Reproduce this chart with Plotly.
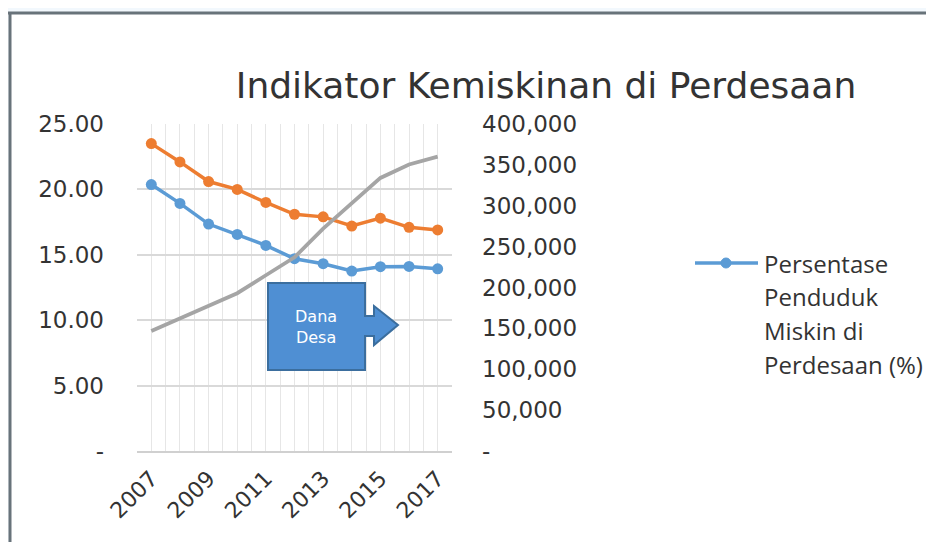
import plotly.graph_objects as go

# ---------------- data ----------------
years = [2007, 2008, 2009, 2010, 2011, 2012, 2013, 2014, 2015, 2016, 2017]
persen_miskin_desa = [20.37, 18.93, 17.35, 16.56, 15.72, 14.70, 14.32, 13.76, 14.09, 14.11, 13.93]
seri_oranye = [23.5, 22.1, 20.6, 20.0, 19.0, 18.1, 17.9, 17.2, 17.8, 17.1, 16.9]
garis_kemiskinan_desa = [146837, 161831, 178000, 193000, 215000, 237000, 272000, 303500, 334000, 350500, 360000]

x_tick_vals = [2007, 2009, 2011, 2013, 2015, 2017]
x_tick_text = ["2007", "2009", "2011", "2013", "2015", "2017"]
y_left_vals = [0, 5, 10, 15, 20, 25]
y_left_text = ["-", "5.00", "10.00", "15.00", "20.00", "25.00"]
y_right_vals = [0, 50000, 100000, 150000, 200000, 250000, 300000, 350000, 400000]
y_right_text = ["-", "50,000", "100,000", "150,000", "200,000", "250,000", "300,000", "350,000", "400,000"]

legend_lines = ["Persentase", "Penduduk", "Miskin di", "Perdesaan (%)"]
title_text = "Indikator Kemiskinan di Perdesaan"
callout_lines = "Dana<br>Desa"

# ---------------- layout geometry (screen pixels) ----------------
SW, SH = 934, 542          # screen
OFF = 8                    # page body margin
W, H = SW - OFF, SH - OFF  # figure size
L, R, T, B = 137, 452, 124, 451   # plot area in screen pixels
FONT = "DejaVu Sans"
LEG_FONT = "Open Sans"
TXT = "#333333"
BLUE, ORANGE, GREY = "#5B9BD5", "#ED7D31", "#A5A5A5"


def px(x, y):
    """screen pixel -> paper coords"""
    return (x - L) / (R - L), 1 - (y - T) / (B - T)


fig = go.Figure()
fig.add_trace(go.Scatter(x=years, y=seri_oranye, mode="lines+markers", name="Seri 2",
                         line=dict(color=ORANGE, width=3.5),
                         marker=dict(size=11, color=ORANGE), showlegend=False))
fig.add_trace(go.Scatter(x=years, y=persen_miskin_desa, mode="lines+markers",
                         name="Persentase Penduduk Miskin di Perdesaan (%)",
                         line=dict(color=BLUE, width=3.5),
                         marker=dict(size=11, color=BLUE), showlegend=False))
fig.add_trace(go.Scatter(x=years, y=garis_kemiskinan_desa, mode="lines", name="Garis Kemiskinan",
                         line=dict(color=GREY, width=3.8), yaxis="y2", showlegend=False))

shapes = []
# faint tint outside the frame
shapes.append(dict(type="rect", xref="paper", yref="paper", layer="below",
                   x0=px(0, 0)[0], y0=px(0, 0)[1], x1=px(945, 12)[0], y1=px(945, 12)[1],
                   fillcolor="#F2F8FD", line=dict(width=0)))
shapes.append(dict(type="rect", xref="paper", yref="paper", layer="below",
                   x0=px(0, 0)[0], y0=px(0, 0)[1], x1=px(9, 545)[0], y1=px(9, 545)[1],
                   fillcolor="#F2F8FD", line=dict(width=0)))
# frame border
shapes.append(dict(type="line", xref="paper", yref="paper",
                   x0=px(8, 13)[0], y0=px(8, 13)[1], x1=px(945, 13)[0], y1=px(945, 13)[1],
                   line=dict(color="#68737A", width=3)))
shapes.append(dict(type="line", xref="paper", yref="paper",
                   x0=px(10, 12)[0], y0=px(10, 12)[1], x1=px(10, 545)[0], y1=px(10, 545)[1],
                   line=dict(color="#68737A", width=3)))
# legend symbol
lx0, ly = px(695, 263)
lx1, _ = px(758, 263)
shapes.append(dict(type="line", xref="paper", yref="paper", x0=lx0, y0=ly, x1=lx1, y1=ly,
                   line=dict(color=BLUE, width=3.5)))
cx0, cy0 = px(721, 258)
cx1, cy1 = px(731, 268)
shapes.append(dict(type="circle", xref="paper", yref="paper", x0=cx0, y0=cy0, x1=cx1, y1=cy1,
                   fillcolor=BLUE, line=dict(color=BLUE, width=1)))
# callout "Dana Desa" (right arrow callout)
pts = [(268, 283), (365, 283), (365, 316), (374, 316), (374, 306), (398, 325),
       (374, 345), (374, 336), (365, 336), (365, 370), (268, 370)]
path = "M " + " L ".join(f"{px(a, b)[0]:.5f},{px(a, b)[1]:.5f}" for a, b in pts) + " Z"
shapes.append(dict(type="path", xref="paper", yref="paper", path=path,
                   fillcolor="#4F8FD3", line=dict(color="#3B6E9E", width=2), layer="above"))

annotations = []
for i, t in enumerate(legend_lines):
    ax, ay = px(762, 263 + i * 33.7)
    annotations.append(dict(text=t, x=ax, y=ay, xref="paper", yref="paper",
                            xanchor="left", yanchor="middle", showarrow=False,
                            font=dict(family=LEG_FONT, size=24, color=TXT)))
ax, ay = px(316, 327)
annotations.append(dict(text=callout_lines, x=ax, y=ay, xref="paper", yref="paper",
                        xanchor="center", yanchor="middle", showarrow=False,
                        font=dict(family=FONT, size=16, color="white")))

fig.update_layout(
    width=W, height=H,
    margin=dict(l=L - OFF, r=W - (R - OFF), t=T - OFF, b=SH - B, pad=0),
    paper_bgcolor="white", plot_bgcolor="white",
    font=dict(family=FONT, size=23, color=TXT),
    title=dict(text=title_text, x=(546 - OFF) / W, xanchor="center", y=1 - (85 - OFF) / H,
               yanchor="middle", font=dict(family=FONT, size=36, color=TXT)),
    xaxis=dict(range=[2006.5, 2017.5], tickvals=x_tick_vals, ticktext=x_tick_text,
               tickangle=-45, showgrid=True, gridcolor="#E6E6E6", gridwidth=1,
               minor=dict(tick0=2006.5, dtick=0.5, showgrid=True, gridcolor="#E6E6E6", gridwidth=1),
               showline=True, linecolor="#D0D0D0", linewidth=2, zeroline=False,
               ticks="", ticklabelstandoff=4, tickfont=dict(size=22)),
    yaxis=dict(range=[0, 25], tickvals=y_left_vals, ticktext=y_left_text,
               showgrid=True, gridcolor="#D9D9D9", gridwidth=1.5, zeroline=False,
               showline=False, ticks="", ticklabelstandoff=32, tickfont=dict(size=23)),
    yaxis2=dict(range=[0, 400000], tickvals=y_right_vals, ticktext=y_right_text,
                overlaying="y", side="right", showgrid=False, zeroline=False,
                showline=False, ticks="", ticklabelstandoff=29, tickfont=dict(size=23)),
    shapes=shapes, annotations=annotations, showlegend=False,
)

fig.write_html("out.html")
